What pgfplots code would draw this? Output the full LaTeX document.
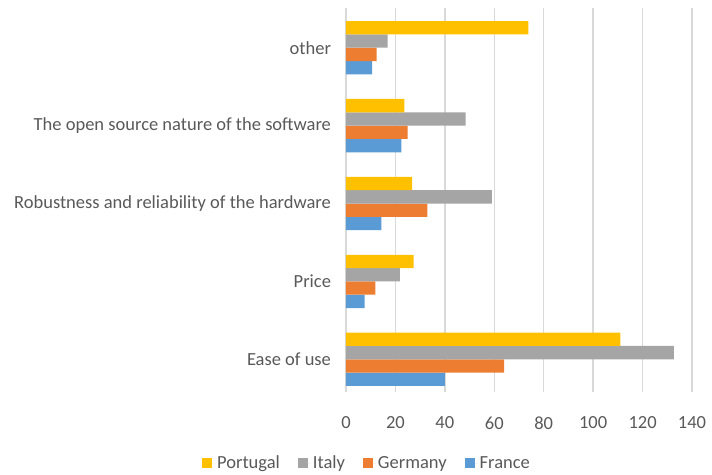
\documentclass[border=0pt]{standalone}
\usepackage{fontspec}
\setmainfont{Carlito}
\usepackage{pgfplots}
\pgfplotsset{compat=1.18}
\definecolor{cPor}{HTML}{FFC000}
\definecolor{cIta}{HTML}{A5A5A5}
\definecolor{cGer}{HTML}{ED7D31}
\definecolor{cFra}{HTML}{5B9BD5}
\definecolor{gridc}{HTML}{D9D9D9}
\definecolor{textc}{HTML}{595959}
\begin{document}
\begin{tikzpicture}[x=1pt,y=1pt]
\useasboundingbox (0,0) rectangle (712,474);
\begin{axis}[
  at={(346pt,82pt)}, anchor=south west,
  width=346pt, height=384pt, scale only axis,
  xbar,
  xmin=0, xmax=140, ymin=-0.42, ymax=4.51,
  xtick={0,20,...,140},
  ytick={0,1,2,3,4},
  yticklabels={Ease of use, Price, Robustness and reliability of the hardware, The open source nature of the software, other},
  xmajorgrids, grid style={draw=gridc, line width=1.3pt},
  axis line style={draw=none},
  major tick length=0pt,
  tick label style={font=\fontsize{18.5}{22}\selectfont, text=textc},
  xticklabel style={yshift=-21pt},
  yticklabel style={xshift=-11.5pt},
  /pgf/number format/assume math mode=true,
  bar width=0.171,
  reverse legend,
  legend columns=4,
  legend style={at={(0.0607,-0.185)}, anchor=center, draw=none, fill=none,
    font=\fontsize{18.5}{22}\selectfont, text=textc,
    nodes={inner xsep=2pt, inner ysep=0pt},
    /tikz/every even column/.append style={column sep=16pt}},
  legend image code/.code={\fill[#1] (0pt,-5pt) rectangle (10pt,5pt); \path (0pt,0pt) -- (13pt,0pt);},
]
\addplot[fill=cFra, draw=none, bar shift=-0.2565] coordinates {(40,0) (7.5,1) (14.3,2) (22.4,3) (10.6,4)};
\addplot[fill=cGer, draw=none, bar shift=-0.0855] coordinates {(64,0) (11.9,1) (32.9,2) (24.9,3) (12.4,4)};
\addplot[fill=cIta, draw=none, bar shift=0.0855] coordinates {(132.7,0) (21.8,1) (59,2) (48.4,3) (16.8,4)};
\addplot[fill=cPor, draw=none, bar shift=0.2565] coordinates {(111,0) (27.4,1) (26.8,2) (23.6,3) (73.8,4)};
\legend{France, Germany, Italy, Portugal}
\end{axis}
\end{tikzpicture}
\end{document}
